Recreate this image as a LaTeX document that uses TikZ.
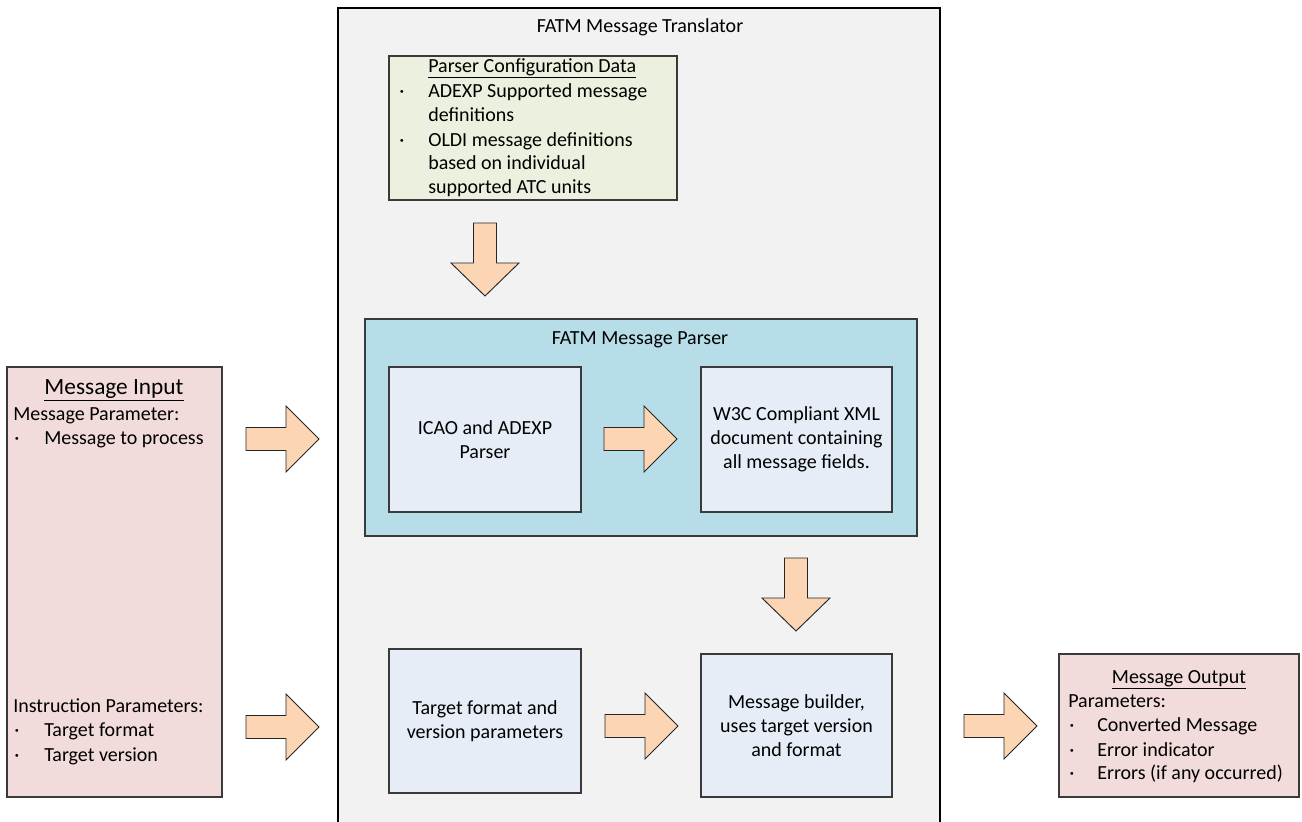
\documentclass[tikz,border=0pt]{standalone}
\usepackage{fontspec}
\setmainfont{Carlito}
\usetikzlibrary{fit}
\definecolor{mainfill}{HTML}{F2F2F2}
\definecolor{cfgfill}{HTML}{EBF1DE}
\definecolor{parserfill}{HTML}{B7DEE8}
\definecolor{innerfill}{HTML}{E6EDF7}
\definecolor{pinkfill}{HTML}{F2DCDB}
\definecolor{arrowfill}{HTML}{FCD5B5}
\definecolor{edge}{HTML}{3A3A3A}
\begin{document}
\begin{tikzpicture}[x=0.75pt,y=-0.75pt,
  box/.style={draw=edge, line width=0.8pt, inner sep=0pt},
  txt/.style={inner sep=0pt, font=\fontsize{15}{18}\selectfont, text height=10.5pt, text depth=3pt},
  ctxt/.style={inner sep=0pt, font=\fontsize{15}{18}\selectfont, align=center},
  arrowstyle/.style={draw=black!85, line width=0.7pt, fill=arrowfill, line join=miter},
  rarrow/.pic={\draw[arrowstyle] (0,-11.5) -- (40,-11.5) -- (40,-33) -- (73,0) -- (40,33) -- (40,11.5) -- (0,11.5) -- cycle;},
  darrow/.pic={\draw[arrowstyle] (-11.5,0) -- (-11.5,40) -- (-34,40) -- (0,73) -- (34,40) -- (11.5,40) -- (11.5,0) -- cycle;}
]
\useasboundingbox (0,0) rectangle (1302,821);
\fill[white] (0,0) rectangle (1302,821);

% main container
\node[box, draw=black, line width=1.2pt, fill=mainfill, fit={(338,8) (940,840)}] (translator) {};
\node[txt, anchor=center] (ttitle) at (640,27) {FATM Message Translator};

% parser configuration data
\node[box, fill=cfgfill, fit={(389,56) (677,200)}] (cfg) {};
\node[txt, anchor=west] (cfgt) at (428,67) {\underline{Parser Configuration Data}};
\node[txt, anchor=west] (cfgb1) at (399,92) {·};
\node[txt, anchor=west] (cfg1) at (428,92) {ADEXP Supported message};
\node[txt, anchor=west] (cfg2) at (428,116) {definitions};
\node[txt, anchor=west] (cfgb2) at (399,141) {·};
\node[txt, anchor=west] (cfg3) at (428,141) {OLDI message definitions};
\node[txt, anchor=west] (cfg4) at (428,164) {based on individual};
\node[txt, anchor=west] (cfg5) at (428,188) {supported ATC units};

% parser
\node[box, fill=parserfill, fit={(365,319) (917,536)}] (parser) {};
\node[txt, anchor=center] (ptitle) at (640,339) {FATM Message Parser};
\node[box, fill=innerfill, fit={(389,367) (581,512)}] (icao) {};
\node[ctxt] at (icao.center) {ICAO and ADEXP\\Parser};
\node[box, fill=innerfill, fit={(701,367) (892,512)}] (w3c) {};
\node[ctxt] at (w3c.center) {W3C Compliant XML\\document containing\\all message fields.};

% bottom inner boxes
\node[box, fill=innerfill, fit={(389,649) (581,793)}] (target) {};
\node[ctxt] at (target.center) {Target format and\\version parameters};
\node[box, fill=innerfill, fit={(701,654) (892,797)}] (builder) {};
\node[ctxt] at (builder.center) {Message builder,\\uses target version\\and format};

% message input
\node[box, fill=pinkfill, fit={(7,367) (222,797)}] (input) {};
\node[inner sep=0pt, font=\fontsize{17.5}{21}\selectfont, text height=12.5pt, text depth=3.5pt] (intitle) at (114,388) {\underline{Message Input}};
\node[txt, anchor=west] (in1) at (13,415) {Message Parameter:};
\node[txt, anchor=west] (inb1) at (14,439) {·};
\node[txt, anchor=west] (in2) at (44,439) {Message to process};
\node[txt, anchor=west] (in3) at (13,707) {Instruction Parameters:};
\node[txt, anchor=west] (inb2) at (14,731) {·};
\node[txt, anchor=west] (in4) at (44,731) {Target format};
\node[txt, anchor=west] (inb3) at (14,756) {·};
\node[txt, anchor=west] (in5) at (44,756) {Target version};

% message output
\node[box, fill=pinkfill, fit={(1059,654) (1299,797)}] (output) {};
\node[txt, anchor=center] (outtitle) at (1179,678) {\underline{Message Output}};
\node[txt, anchor=west] (out1) at (1068,702) {Parameters:};
\node[txt, anchor=west] (outb1) at (1069,726) {·};
\node[txt, anchor=west] (out2) at (1097,726) {Converted Message};
\node[txt, anchor=west] (outb2) at (1069,751) {·};
\node[txt, anchor=west] (out3) at (1097,751) {Error indicator};
\node[txt, anchor=west] (outb3) at (1069,774) {·};
\node[txt, anchor=west] (out4) at (1097,774) {Errors (if any occurred)};

% block arrows
\pic at (246,439) {rarrow};
\pic at (246,727) {rarrow};
\pic at (604,439) {rarrow};
\pic at (605,726) {rarrow};
\pic at (964,726) {rarrow};
\pic at (485,223) {darrow};
\pic at (796,558) {darrow};
\end{tikzpicture}
\end{document}
